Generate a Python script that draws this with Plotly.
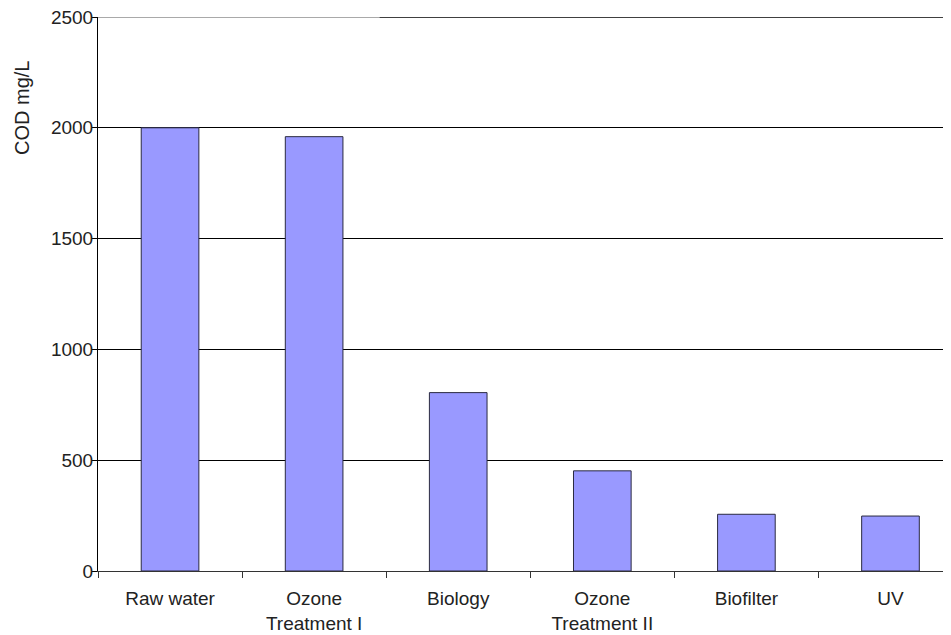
import plotly.graph_objects as go

categories = ["Raw water", "Ozone<br>Treatment I", "Biology", "Ozone<br>Treatment II", "Biofilter", "UV"]
cod_values = [2000, 1960, 805, 452, 256, 248]
y_tick_values = [0, 500, 1000, 1500, 2000, 2500]
y_max = 2500

fig = go.Figure()
fig.add_trace(go.Bar(
    x=categories,
    y=cod_values,
    width=0.4,
    marker=dict(color="#9999FF", line=dict(color="#2a2a40", width=1)),
))

font = "Liberation Sans, Arial, sans-serif"
# page body has an 8px margin, so the figure is sized to end at the window edge
W, H = 943, 627
ML, MT, MB = 90, 9, 64
plot_w = W - ML
plot_h = H - MT - MB
fig.update_layout(
    width=W, height=H,
    margin=dict(l=ML, r=0, t=MT, b=MB),
    paper_bgcolor="white", plot_bgcolor="white",
    showlegend=False,
    font=dict(family=font, size=19, color="#222222"),
    xaxis=dict(
        type="category",
        range=[-0.5, 5.42],
        automargin=False,
        showline=True, linecolor="#333333", linewidth=1,
        ticks="outside", tickson="boundaries", ticklen=6, tickcolor="#333333",
        showgrid=False, zeroline=False,
        tickfont=dict(size=19),
        ticklabelstandoff=10,
    ),
    yaxis=dict(
        range=[0, y_max],
        tickvals=y_tick_values,
        automargin=False,
        showline=True, linecolor="#000000", linewidth=1,
        ticks="outside", ticklen=5, tickcolor="#000000",
        showgrid=True, gridcolor="#000000", gridwidth=1,
        zeroline=False,
        tickfont=dict(size=19),
        ticklabelstandoff=-5,
        ticklabeloverflow="allow",
    ),
    shapes=[
        dict(type="line", xref="paper", yref="y", x0=0, x1=0.33, y0=y_max, y1=y_max,
             line=dict(color="#555555", width=1)),
        dict(type="line", xref="paper", yref="y", x0=0.33, x1=1, y0=y_max, y1=y_max,
             line=dict(color="#000000", width=1.5)),
    ],
    annotations=[dict(
        text="COD mg/L", textangle=-90,
        xref="paper", yref="paper",
        x=(14 - ML) / plot_w, y=(H - MB - 100) / plot_h,
        xanchor="center", yanchor="middle",
        showarrow=False,
        font=dict(family=font, size=20, color="#222222"),
    )],
)

fig.write_html("out.html")
